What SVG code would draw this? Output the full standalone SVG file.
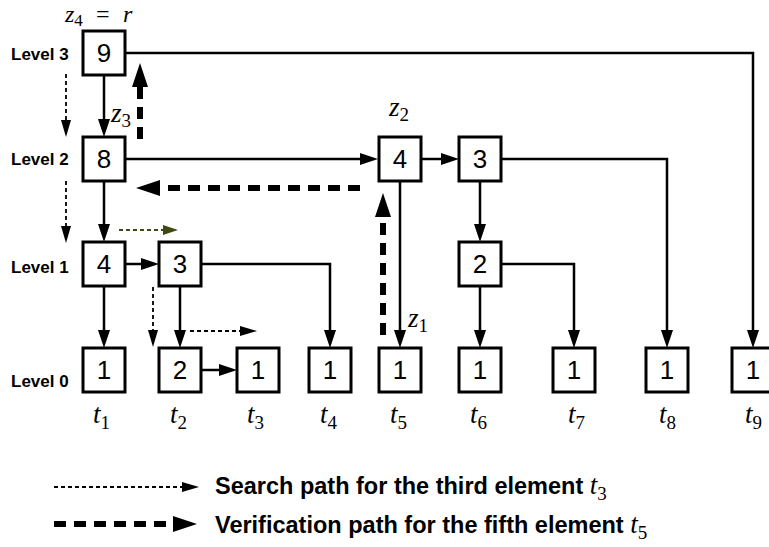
<svg xmlns="http://www.w3.org/2000/svg" width="769" height="547" viewBox="0 0 769 547">
<style>
.box{fill:#fff;stroke:#000;stroke-width:3}
.num{font-family:"Liberation Sans",Arial,sans-serif;font-size:26px;text-anchor:middle}
.lvl{font-family:"Liberation Sans",Arial,sans-serif;font-size:17px;font-weight:bold}
.math{font-family:"Liberation Serif","Times New Roman",serif;font-style:italic;font-size:27px}
.sub{font-style:normal;font-size:19px}
.top{font-size:24px}
.topsub{font-style:normal;font-size:17px}
.leg{font-family:"Liberation Sans",Arial,sans-serif;font-size:23.5px;font-weight:bold}
.solid{fill:none;stroke:#000;stroke-width:2.5;marker-end:url(#arr)}
.dot{fill:none;stroke:#000;stroke-width:1.8;stroke-dasharray:4 3;marker-end:url(#arrThin)}
.dotg{fill:none;stroke:#3c4a14;stroke-width:1.8;stroke-dasharray:4 3;marker-end:url(#arrGreen)}
.thick{fill:none;stroke:#000;stroke-width:6;stroke-dasharray:12 8;marker-end:url(#arrThick)}
</style>
<defs>
<marker id="arr" markerUnits="userSpaceOnUse" markerWidth="18" markerHeight="12" refX="0" refY="6" orient="auto"><path d="M0,0 L18,6 L0,12 z" fill="#000"/></marker>
<marker id="arrThin" markerUnits="userSpaceOnUse" markerWidth="17" markerHeight="10" refX="0" refY="5" orient="auto"><path d="M0,0 L17,5 L0,10 z" fill="#000"/></marker>
<marker id="arrGreen" markerUnits="userSpaceOnUse" markerWidth="15" markerHeight="10" refX="0" refY="5" orient="auto"><path d="M0,0 L15,5 L0,10 z" fill="#3c4a14"/></marker>
<marker id="arrThick" markerUnits="userSpaceOnUse" markerWidth="24" markerHeight="16" refX="0" refY="8" orient="auto"><path d="M0,0 L24,8 L0,16 z" fill="#000"/></marker>
</defs>
<rect width="769" height="547" fill="#fff"/>

<g id="levels">
<text class="lvl" x="11" y="60">Level 3</text>
<text class="lvl" x="11" y="165">Level 2</text>
<text class="lvl" x="11" y="273">Level 1</text>
<text class="lvl" x="11" y="387">Level 0</text>
</g>

<g id="connectors">
<path class="solid" d="M125,53 H753 V330"/>
<path class="solid" d="M104,75 V119"/>
<path class="solid" d="M125,159 H360"/>
<path class="solid" d="M421,159 H441"/>
<path class="solid" d="M501,159 H667 V330"/>
<path class="solid" d="M480,181 V224"/>
<path class="solid" d="M400,181 V330"/>
<path class="solid" d="M104,181 V224"/>
<path class="solid" d="M125,264 H141"/>
<path class="solid" d="M201,264 H330 V330"/>
<path class="solid" d="M180,286 V330"/>
<path class="solid" d="M104,286 V330"/>
<path class="solid" d="M201,370 H219"/>
<path class="solid" d="M501,264 H574 V330"/>
<path class="solid" d="M480,286 V330"/>
<path class="dot" d="M66,74 V120"/>
<path class="dot" d="M66,181 V226"/>
<path class="dotg" d="M119,230 H163"/>
<path class="dot" d="M153,287 V330"/>
<path class="dot" d="M190,331 H240"/>
<path class="thick" d="M140,139 V87"/>
<path class="thick" d="M360,188 H160"/>
<path class="thick" d="M383,335 V217"/>
</g>

<g id="n9"><rect class="box" x="83" y="31" width="42" height="44"/><text class="num" x="104" y="62">9</text></g>
<g id="n8"><rect class="box" x="83" y="137" width="42" height="44"/><text class="num" x="104" y="168">8</text></g>
<g id="n2a"><rect class="box" x="379" y="137" width="42" height="44"/><text class="num" x="400" y="168">4</text></g>
<g id="n2b"><rect class="box" x="459" y="137" width="42" height="44"/><text class="num" x="480" y="168">3</text></g>
<g id="n1a"><rect class="box" x="83" y="242" width="42" height="44"/><text class="num" x="104" y="273">4</text></g>
<g id="n1b"><rect class="box" x="159" y="242" width="42" height="44"/><text class="num" x="180" y="273">3</text></g>
<g id="n1c"><rect class="box" x="459" y="242" width="42" height="44"/><text class="num" x="480" y="273">2</text></g>
<g id="t1"><rect class="box" x="83" y="348" width="42" height="44"/><text class="num" x="104" y="379">1</text></g>
<g id="t2"><rect class="box" x="159" y="348" width="42" height="44"/><text class="num" x="180" y="379">2</text></g>
<g id="t3"><rect class="box" x="237" y="348" width="42" height="44"/><text class="num" x="258" y="379">1</text></g>
<g id="t4"><rect class="box" x="309" y="348" width="42" height="44"/><text class="num" x="330" y="379">1</text></g>
<g id="t5"><rect class="box" x="379" y="348" width="42" height="44"/><text class="num" x="400" y="379">1</text></g>
<g id="t6"><rect class="box" x="459" y="348" width="42" height="44"/><text class="num" x="480" y="379">1</text></g>
<g id="t7"><rect class="box" x="553" y="348" width="42" height="44"/><text class="num" x="574" y="379">1</text></g>
<g id="t8"><rect class="box" x="646" y="348" width="42" height="44"/><text class="num" x="667" y="379">1</text></g>
<g id="t9"><rect class="box" x="732" y="348" width="42" height="44"/><text class="num" x="753" y="379">1</text></g>

<g id="tlabels">
<text class="math" x="93" y="423">t<tspan class="sub" dy="6">1</tspan></text>
<text class="math" x="170" y="423">t<tspan class="sub" dy="6">2</tspan></text>
<text class="math" x="247" y="423">t<tspan class="sub" dy="6">3</tspan></text>
<text class="math" x="320" y="423">t<tspan class="sub" dy="6">4</tspan></text>
<text class="math" x="390" y="423">t<tspan class="sub" dy="6">5</tspan></text>
<text class="math" x="470" y="423">t<tspan class="sub" dy="6">6</tspan></text>
<text class="math" x="568" y="423">t<tspan class="sub" dy="6">7</tspan></text>
<text class="math" x="659" y="423">t<tspan class="sub" dy="6">8</tspan></text>
<text class="math" x="745" y="423">t<tspan class="sub" dy="6">9</tspan></text>
</g>

<g id="zlabels">
<text class="math top" x="65" y="22">z<tspan class="topsub" dy="4">4</tspan><tspan style="font-style:normal" x="96" dy="-4">=</tspan><tspan x="123">r</tspan></text>
<text class="math" x="111" y="122">z<tspan class="sub" dy="5">3</tspan></text>
<text class="math" x="389" y="116">z<tspan class="sub" dy="5">2</tspan></text>
<text class="math" x="408" y="327">z<tspan class="sub" dy="5">1</tspan></text>
</g>

<g id="legend">
<path class="dot" d="M54,487 H182"/>
<path class="thick" d="M54,524 H173"/>
<text class="leg" x="215" y="494">Search path for the third element <tspan class="math" font-weight="normal">t<tspan class="sub" dy="6">3</tspan></tspan></text>
<text class="leg" x="215" y="533">Verification path for the fifth element <tspan class="math" font-weight="normal">t<tspan class="sub" dy="6">5</tspan></tspan></text>
</g>
</svg>
